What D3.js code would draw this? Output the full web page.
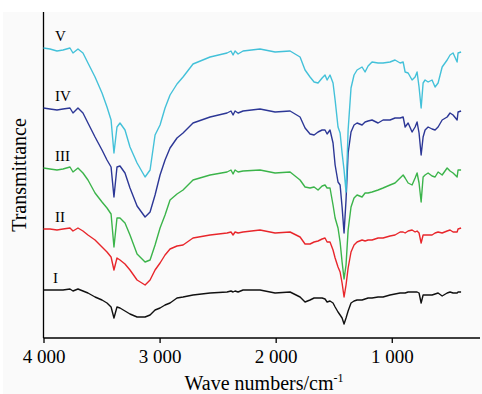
<!DOCTYPE html>
<html>
<head>
<meta charset="utf-8">
<script src="https://cdn.jsdelivr.net/npm/d3@7"></script>
<style>
  html, body { margin: 0; padding: 0; background: #fff; }
  svg { display: block; }
  text { font-family: "Liberation Serif", "Times New Roman", serif; fill: #000; }
</style>
</head>
<body>
<svg id="chart" width="482" height="394"></svg>
<script>
// wave numbers (cm-1), shared by all spectra
const waveNumbers = [4000, 3944, 3884, 3832, 3772, 3746, 3703, 3660, 3617, 3556,
  3496, 3453, 3418, 3393, 3367, 3341, 3298, 3255, 3194, 3125,
  3082, 3039, 2996, 2953, 2910, 2850, 2798, 2712, 2565, 2419,
  2385, 2367, 2350, 2324, 2281, 2135, 2005, 1876, 1790, 1747,
  1704, 1669, 1635, 1600, 1575, 1557, 1532, 1506, 1488, 1463,
  1445, 1428, 1411, 1394, 1376, 1351, 1325, 1299, 1256, 1230,
  1204, 1170, 1118, 1075, 1015, 972, 928, 902, 885, 859,
  825, 799, 782, 765, 747, 730, 713, 687, 653, 627,
  601, 566, 523, 498, 472, 437, 429, 403];

// transmittance, arbitrary units (spectra are stacked with offsets)
const specI = [48, 48, 48, 48, 49, 47, 49, 47, 45, 41,
  38, 35, 31, 20, 31, 30, 27, 24, 21, 21,
  23, 28, 30, 33, 35, 40, 41, 43, 45, 46,
  47, 46, 47, 46, 48, 48, 45, 46, 41, 36,
  38, 40, 40, 40, 39, 36, 37, 35, 31, 26,
  23, 20, 14, 20, 27, 35, 37, 38, 38, 39,
  40, 40, 41, 41, 43, 44, 45, 45, 45, 46,
  46, 46, 46, 45, 35, 43, 43, 43, 43, 44,
  45, 42, 45, 46, 45, 45, 46, 46];

const specII = [109, 109, 108, 109, 110, 107, 110, 107, 103, 98,
  91, 86, 81, 68, 80, 78, 74, 68, 58, 53,
  58, 68, 75, 83, 89, 92, 93, 100, 103, 105,
  106, 103, 106, 105, 106, 108, 105, 106, 101, 94,
  94, 96, 97, 99, 100, 96, 96, 88, 80, 71,
  66, 55, 41, 53, 70, 86, 93, 96, 98, 97,
  98, 98, 100, 100, 102, 103, 106, 106, 105, 107,
  108, 106, 107, 105, 95, 103, 103, 103, 103, 105,
  106, 105, 107, 108, 106, 106, 109, 110];

const specIII = [170, 169, 168, 169, 171, 166, 170, 165, 158, 145,
  136, 130, 124, 91, 120, 120, 115, 103, 84, 76,
  78, 93, 110, 123, 138, 144, 148, 158, 163, 166,
  168, 164, 168, 166, 167, 168, 165, 166, 158, 151,
  150, 151, 148, 152, 153, 150, 150, 133, 120, 110,
  96, 76, 59, 73, 108, 131, 140, 143, 141, 145,
  145, 146, 148, 150, 153, 155, 160, 163, 160, 155,
  153, 160, 165, 155, 136, 161, 163, 165, 162, 161,
  166, 163, 170, 167, 165, 161, 168, 168];

const specIV = [230, 229, 228, 229, 230, 225, 230, 225, 215, 201,
  188, 178, 171, 141, 171, 172, 165, 150, 132, 121,
  126, 143, 163, 178, 190, 200, 205, 215, 221, 225,
  227, 223, 227, 225, 227, 229, 226, 227, 221, 210,
  204, 203, 206, 208, 208, 204, 208, 195, 173, 156,
  153, 131, 105, 138, 185, 206, 213, 215, 213, 216,
  217, 218, 215, 218, 218, 220, 220, 221, 211, 215,
  206, 211, 216, 205, 183, 201, 208, 211, 209, 208,
  211, 218, 221, 225, 223, 218, 226, 227];

const specV = [290, 289, 287, 288, 290, 285, 289, 285, 275, 261,
  245, 231, 218, 185, 211, 215, 208, 191, 175, 161,
  168, 203, 213, 230, 243, 254, 261, 274, 281, 285,
  287, 283, 287, 284, 287, 289, 286, 287, 281, 268,
  261, 256, 255, 260, 263, 258, 263, 255, 238, 211,
  205, 185, 168, 146, 208, 250, 263, 268, 271, 266,
  272, 276, 275, 275, 276, 278, 275, 276, 266, 265,
  258, 261, 266, 251, 230, 255, 258, 256, 258, 251,
  255, 271, 278, 283, 285, 276, 285, 286];

const seriesNames = ['I', 'II', 'III', 'IV', 'V'];
const seriesValues = [specI, specII, specIII, specIV, specV];
const seriesColors = ['#111111', '#e8262b', '#3bb44a', '#2c3796', '#43c1d9'];

const xTicks = [4000, 3000, 2000, 1000];
const xTickLabels = ['4 000', '3 000', '2 000', '1 000'];

const svg = d3.select('#chart');
const margin = { left: 43.5, right: 480, top: 12, bottom: 338 };

// light paper background
svg.append('rect')
  .attr('x', 3).attr('y', margin.top)
  .attr('width', 482 - 3).attr('height', 394 - margin.top)
  .attr('fill', '#fafafa');

const x = d3.scaleLinear().domain([4000, 240]).range([margin.left, margin.right]);
const y = d3.scaleLinear().domain([0, 326]).range([margin.bottom, margin.top]);

// axes
const xAxis = d3.axisBottom(x)
  .tickValues(xTicks)
  .tickFormat((d, i) => xTickLabels[i])
  .tickSize(5)
  .tickPadding(7);

const gx = svg.append('g')
  .attr('transform', `translate(0,${margin.bottom})`)
  .call(xAxis);
gx.select('.domain').remove();
gx.append('line')
  .attr('x1', margin.left).attr('x2', margin.right)
  .attr('stroke', '#000').attr('stroke-width', 1.3);
gx.selectAll('.tick line').attr('stroke', '#000').attr('stroke-width', 1.3);
gx.selectAll('.tick text')
  .attr('font-family', '"Liberation Serif", serif')
  .attr('font-size', 19)
  .attr('fill', '#000');

svg.append('line')
  .attr('x1', margin.left).attr('x2', margin.left)
  .attr('y1', margin.top).attr('y2', margin.bottom)
  .attr('stroke', '#000').attr('stroke-width', 1.3);

// spectra
const line = d3.line()
  .x((d, i) => x(waveNumbers[i]))
  .y(d => y(d));

svg.append('g')
  .selectAll('path')
  .data(seriesValues)
  .enter()
  .append('path')
  .attr('d', d => line(d))
  .attr('fill', 'none')
  .attr('stroke', (d, i) => seriesColors[i])
  .attr('stroke-width', 1.4)
  .attr('stroke-linejoin', 'round');

// series labels
svg.append('g')
  .selectAll('text')
  .data(seriesNames)
  .enter()
  .append('text')
  .attr('x', d => d === 'I' ? 53 : 55)
  .attr('y', (d, i) => y(seriesValues[i][0]) - 7)
  .attr('font-size', 15)
  .text(d => d);

// axis titles
const xt = svg.append('text')
  .attr('x', 264)
  .attr('y', 390)
  .attr('text-anchor', 'middle')
  .attr('font-size', 20);
xt.append('tspan').text('Wave numbers/cm');
xt.append('tspan').attr('font-size', 12).attr('dy', -8).text('-1');

svg.append('text')
  .attr('transform', 'translate(26,175) rotate(-90)')
  .attr('text-anchor', 'middle')
  .attr('font-size', 20)
  .text('Transmittance');
</script>
</body>
</html>
